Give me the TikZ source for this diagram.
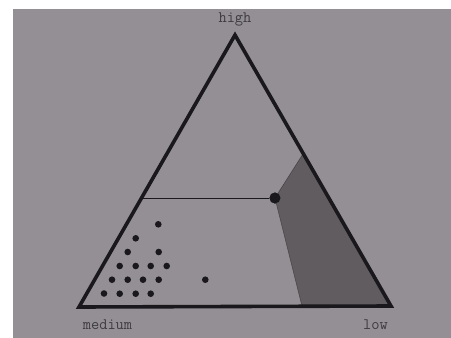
\documentclass[tikz,border=0pt]{standalone}
\usetikzlibrary{positioning}
\definecolor{paper}{RGB}{148,143,148}
\definecolor{ink}{RGB}{26,24,28}
\definecolor{shade}{RGB}{96,92,96}
\definecolor{print}{RGB}{62,59,66}
\begin{document}
\begin{tikzpicture}[
  x=1pt,y=-1pt,
  frame/.style={draw=ink,line width=3.6pt,line join=miter},
  thin/.style={draw=ink,line width=0.8pt},
  zone/.style={fill=shade,draw=ink!80,line width=0.6pt},
  joint/.style={circle,fill=ink,inner sep=0pt,minimum size=11pt},
  corner/.style={font=\ttfamily\fontsize{16}{16}\selectfont,text=print,inner sep=0pt}
]
  \fill[white] (0,0) rectangle (451,338);
  \fill[paper] (13,9) rectangle (451,338);
  \useasboundingbox (0,0) rectangle (451,338);

  \coordinate (top) at (235,35);
  \coordinate (left) at (79,307);
  \coordinate (right) at (391,306);
  \coordinate (rim) at (303,154);
  \coordinate (foot) at (302,306);
  \coordinate (cut) at (141.5,198);
  \node[joint] (point) at (275,198) {};

  \fill[zone] (rim) -- (point.center) -- (foot) -- (right) -- cycle;
  \draw[thin] (cut) -- (point);
  \draw[frame] (top) -- (right) -- (left) -- cycle;
  \node[joint] at (point) {};

  % sample dots
  \foreach \x/\y in {158.3/224.3, 135.7/238.3, 127.7/252, 158.7/252,
                     119.7/266, 135.7/266, 150.7/266, 166.7/266,
                     112/279.7, 127.7/279.7, 143/279.7, 158.7/279.7, 205.3/279.7,
                     104/293.5, 119.7/293.7, 135.7/293.7, 150.7/293.7}
    \fill[ink] (\x,\y) circle (3.3pt);

  \node[corner] (high) at (235,19) {high};
  \node[corner] (medium) at (107.5,325) {medium};
  \node[corner] (low) at (375.5,325) {low};
\end{tikzpicture}
\end{document}
